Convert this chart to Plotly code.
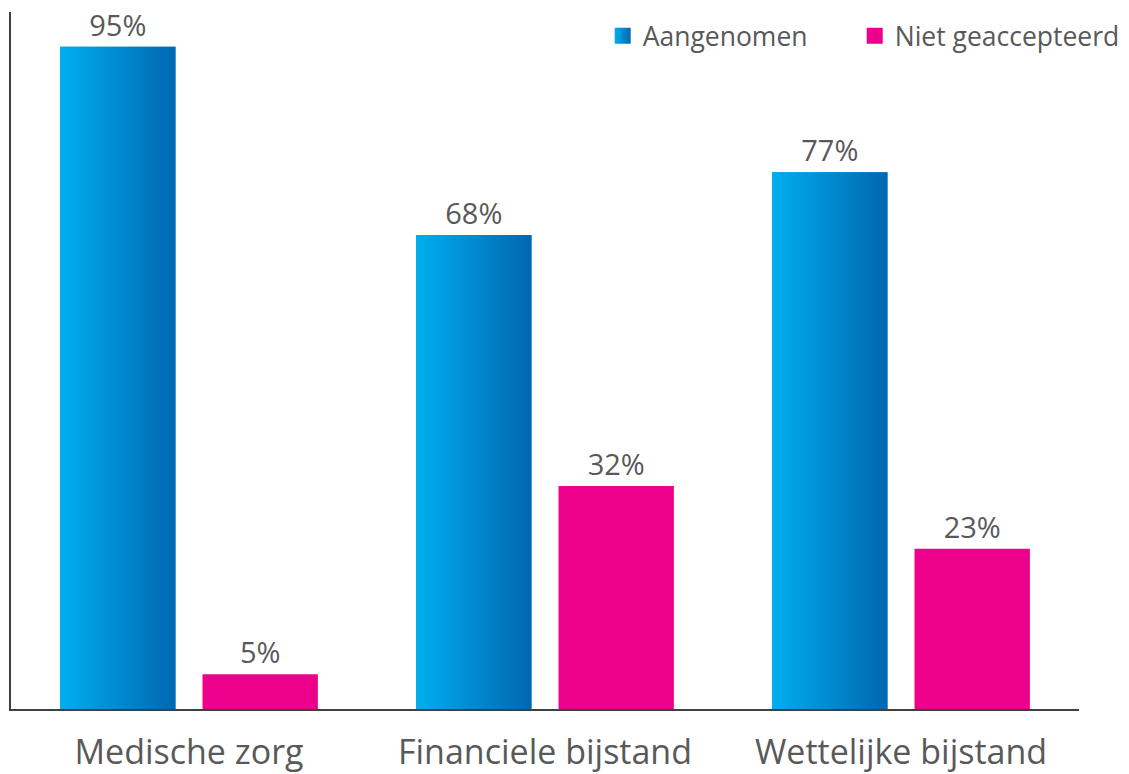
import plotly.graph_objects as go

categories = ["Medische zorg", "Financiele bijstand", "Wettelijke bijstand"]
aangenomen = [95, 68, 77]
niet_geaccepteerd = [5, 32, 23]
series_names = ["Aangenomen", "Niet geaccepteerd"]

BARGAP = 0.2
BARGROUPGAP = 0.19
BLUE_L = "#00AEEF"
BLUE_R = "#0067B1"
BLUE_MID = "#0090D6"
PINK = "#EC008C"
TXT = "#595959"
FONT = "Open Sans"

xs = list(range(len(categories)))

fig = go.Figure()
fig.add_trace(go.Bar(
    x=xs, y=aangenomen, name=series_names[0], showlegend=False,
    marker=dict(color=BLUE_MID, line=dict(width=0)),
    text=[f"{v}%" for v in aangenomen], textposition="outside",
    textfont=dict(size=29, color=TXT, family=FONT), cliponaxis=False,
))
fig.add_trace(go.Bar(
    x=xs, y=niet_geaccepteerd, name=series_names[1], showlegend=False,
    marker=dict(color=PINK, line=dict(width=0)),
    text=[f"{v}%" for v in niet_geaccepteerd], textposition="outside",
    textfont=dict(size=29, color=TXT, family=FONT), cliponaxis=False,
))

# gradient overlay for the first series, derived from bar layout parameters
slot = (1 - BARGAP) / 2
bw = slot * (1 - BARGROUPGAP)
for x, v in zip(xs, aangenomen):
    c = x - slot / 2
    x0, x1 = c - bw / 2, c + bw / 2
    fig.add_trace(go.Scatter(
        x=[x0, x1, x1, x0, x0], y=[0, 0, v, v, 0],
        mode="lines", fill="toself", line=dict(width=0),
        fillgradient=dict(type="horizontal",
                          colorscale=[[0, BLUE_L], [1, BLUE_R]]),
        showlegend=False, hoverinfo="skip",
    ))

# legend entries (larger square symbols), one legend each for exact placement
fig.add_trace(go.Scatter(
    x=[None], y=[None], mode="markers", name=series_names[0], legend="legend",
    marker=dict(symbol="square", size=25, color=BLUE_L,
                gradient=dict(type="horizontal", color=BLUE_R)),
))
fig.add_trace(go.Scatter(
    x=[None], y=[None], mode="markers", name=series_names[1], legend="legend2",
    marker=dict(symbol="square", size=25, color=PINK),
))

legend_common = dict(orientation="h", xanchor="left", y=1.0, yanchor="top",
                     font=dict(size=26.5, color=TXT, family=FONT),
                     itemsizing="trace", bgcolor="rgba(0,0,0,0)")

fig.update_layout(
    width=1129, height=774,
    margin=dict(l=3, r=58, t=4, b=73),
    plot_bgcolor="white", paper_bgcolor="white",
    barmode="group", bargap=BARGAP, bargroupgap=BARGROUPGAP,
    font=dict(family=FONT, color=TXT),
    legend=dict(x=0.554, **legend_common),
    legend2=dict(x=0.79, **legend_common),
    xaxis=dict(range=[-0.5, 2.5], tickvals=xs, ticktext=categories,
               showline=True, linecolor="#404040", linewidth=2,
               showgrid=False, zeroline=False, ticks="", ticklabelstandoff=12,
               tickfont=dict(size=34, color=TXT, family=FONT)),
    yaxis=dict(range=[0, 100], showline=True, linecolor="#404040", linewidth=2,
               showgrid=False, zeroline=False, showticklabels=False, ticks=""),
)

fig.write_html("out.html")
